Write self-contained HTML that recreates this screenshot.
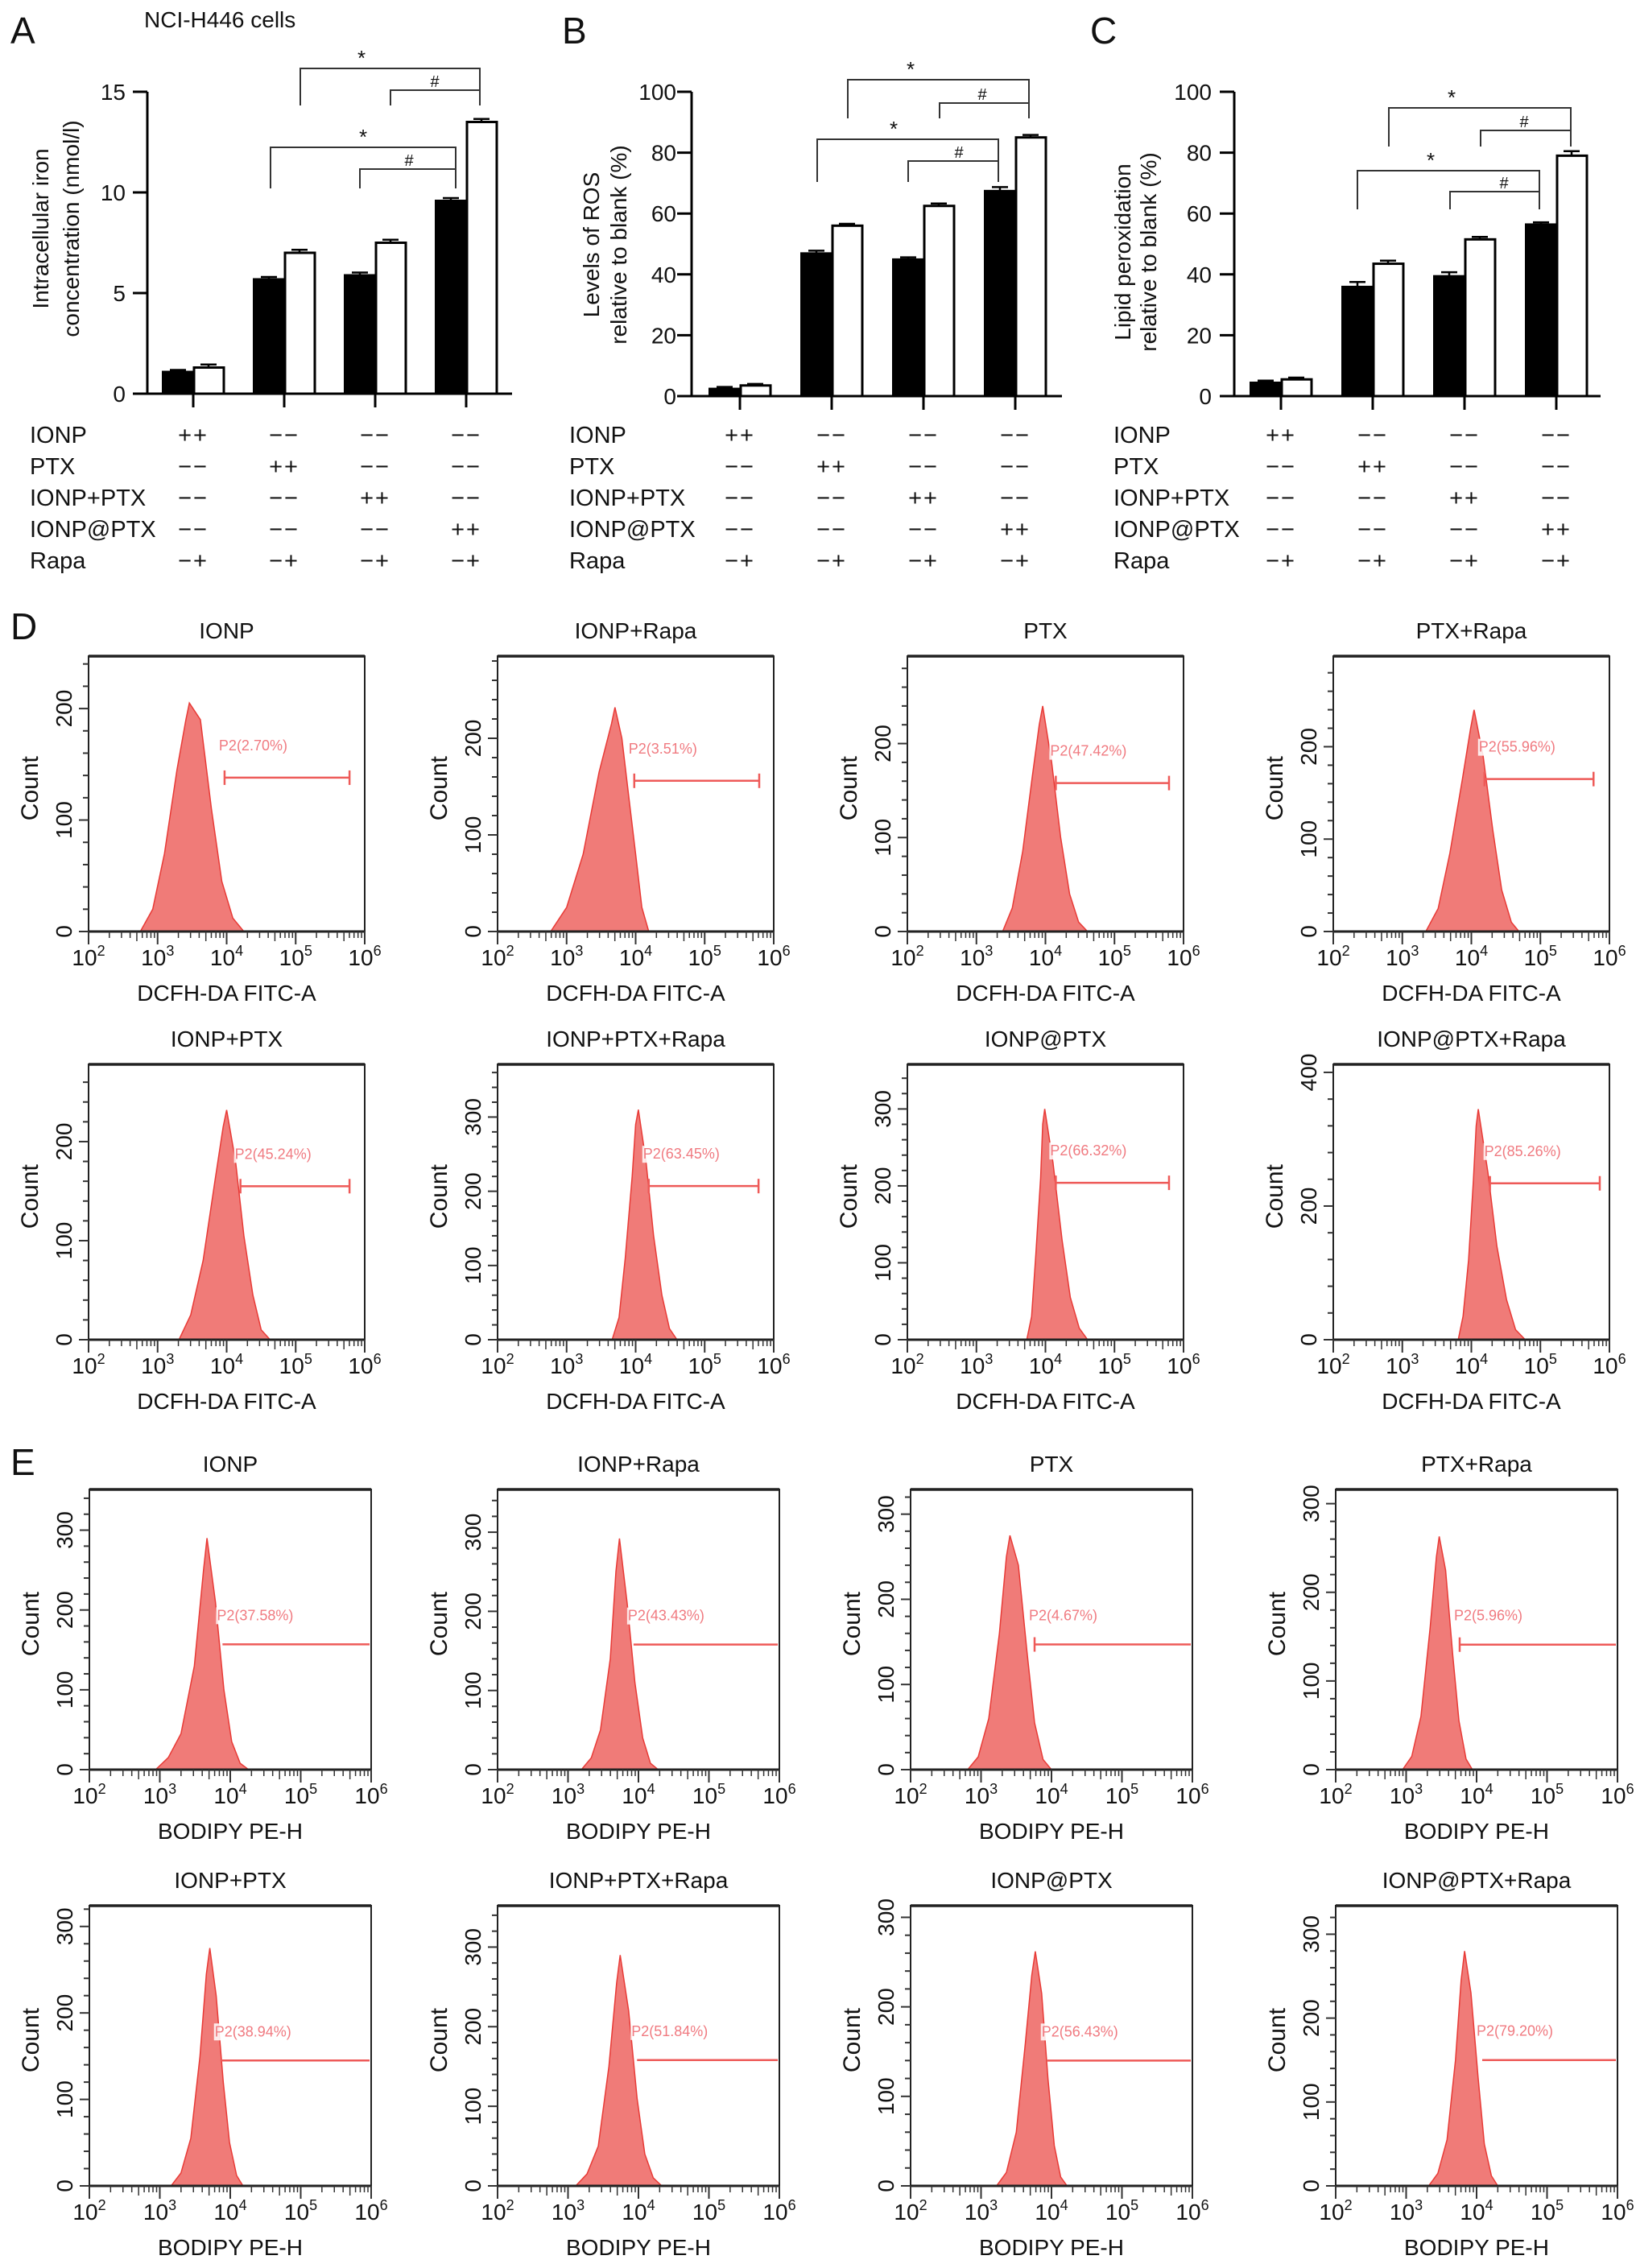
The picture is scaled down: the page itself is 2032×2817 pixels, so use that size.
<!DOCTYPE html>
<html><head><meta charset="utf-8"><style>
html,body{margin:0;padding:0;background:#fff;}
svg{display:block;font-family:"Liberation Sans",Arial,sans-serif;}
</style></head><body>
<svg id="fig" xmlns="http://www.w3.org/2000/svg" width="2032" height="2817" viewBox="0 0 2032 2817">
<rect width="2032" height="2817" fill="#fff"/>
<g id="bars"></g>
<g id="hists"></g>
</svg>
<script>
// ---------- Bar chart data ----------
const groupNames = ["IONP","PTX","IONP+PTX","IONP@PTX"];
const rowLabels = ["IONP","PTX","IONP+PTX","IONP@PTX","Rapa"];
const ironBlack = [1.1,5.7,5.9,9.6];
const ironWhite = [1.3,7.0,7.5,13.5];
const ironErrB = [0.08,0.1,0.12,0.12];
const ironErrW = [0.15,0.15,0.15,0.15];
const rosBlack = [2.5,47,45,67.5];
const rosWhite = [3.5,56,62.5,85];
const rosErrB = [0.5,0.8,0.6,1.2];
const rosErrW = [0.5,0.6,0.8,0.8];
const lipBlack = [4.5,36,39.5,56.5];
const lipWhite = [5.5,43.5,51.5,79];
const lipErrB = [0.6,1.5,1.2,0.6];
const lipErrW = [0.6,1.0,0.8,1.5];
const ironTicks = [0,5,10,15];
const pctTicks = [0,20,40,60,80,100];

// ---------- Histogram data ----------
const dTitles = ["IONP","IONP+Rapa","PTX","PTX+Rapa","IONP+PTX","IONP+PTX+Rapa","IONP@PTX","IONP@PTX+Rapa"];
const dGateLabels = ["P2(2.70%)","P2(3.51%)","P2(47.42%)","P2(55.96%)","P2(45.24%)","P2(63.45%)","P2(66.32%)","P2(85.26%)"];
const dYMax = [247,285,293,298,278,371,358,412];
const dTickStep = [100,100,100,100,100,100,100,200];
const dGateY = [138,156,158,165,155,207,204,234];
const dGateX0 = [3.97,3.98,4.15,4.19,4.2,4.19,4.15,4.27];
const dGateX1 = [5.78,5.79,5.79,5.77,5.78,5.78,5.79,5.86];
const dXs = [
 [2.75,2.93,3.1,3.28,3.41,3.46,3.62,3.78,3.93,4.09,4.25],
 [2.77,3.0,3.24,3.47,3.65,3.7,3.8,3.9,4.0,4.09,4.19],
 [3.38,3.52,3.67,3.81,3.91,3.96,4.09,4.22,4.35,4.48,4.61],
 [3.34,3.52,3.69,3.87,3.99,4.04,4.17,4.31,4.44,4.58,4.69],
 [3.31,3.48,3.66,3.83,3.95,4.0,4.13,4.25,4.38,4.5,4.63],
 [3.66,3.76,3.85,3.95,4.0,4.04,4.15,4.26,4.38,4.49,4.6],
 [3.73,3.8,3.86,3.93,3.96,3.99,4.11,4.24,4.36,4.49,4.61],
 [3.81,3.88,3.96,4.03,4.07,4.1,4.24,4.37,4.51,4.64,4.78]];
const dYs = [
 [0,20,70,145,190,205,190,110,45,12,0],
 [0,25,80,165,215,232,200,140,80,25,0],
 [0,25,85,165,220,240,180,100,40,10,0],
 [0,25,85,165,220,240,190,110,45,10,0],
 [0,25,80,160,215,232,180,105,45,10,0],
 [0,30,110,220,290,310,240,140,60,15,0],
 [0,30,110,210,280,300,230,130,55,15,0],
 [0,35,120,240,320,345,250,140,60,15,0]];
const eTitles = dTitles;
const eGateLabels = ["P2(37.58%)","P2(43.43%)","P2(4.67%)","P2(5.96%)","P2(38.94%)","P2(51.84%)","P2(56.43%)","P2(79.20%)"];
const eYMax = [351,354,329,316,324,352,313,334];
const eTickStep = [100,100,100,100,100,100,100,100];
const eGateY = [157,158,147,141,145,158,140,150];
const eGateX0 = [3.89,3.93,3.76,3.76,3.86,3.98,3.94,4.08];
const eGateX1 = [6,6,6,6,6,6,6,6];
const eXs = [
 [2.94,3.12,3.3,3.49,3.62,3.67,3.79,3.91,4.02,4.14,4.26],
 [3.19,3.33,3.46,3.6,3.68,3.73,3.84,3.95,4.06,4.17,4.28],
 [2.81,2.96,3.11,3.26,3.36,3.41,3.53,3.65,3.76,3.88,4.0],
 [2.95,3.08,3.21,3.34,3.43,3.47,3.56,3.66,3.75,3.85,3.94],
 [3.16,3.3,3.44,3.57,3.66,3.71,3.8,3.9,3.99,4.09,4.18],
 [3.11,3.27,3.43,3.58,3.69,3.74,3.86,3.98,4.09,4.21,4.33],
 [3.22,3.36,3.5,3.63,3.72,3.77,3.86,3.95,4.04,4.13,4.22],
 [3.32,3.45,3.58,3.7,3.78,3.83,3.92,4.02,4.11,4.21,4.3]];
const eYs = [
 [0,15,45,130,250,290,210,100,35,8,0],
 [0,15,50,140,250,292,210,110,40,8,0],
 [0,15,60,160,250,275,240,140,55,12,0],
 [0,15,60,160,240,263,225,130,55,12,0],
 [0,15,55,150,245,275,220,120,50,12,0],
 [0,15,50,150,255,290,220,110,40,10,0],
 [0,15,60,160,235,262,215,120,45,10,0],
 [0,15,55,150,245,280,230,130,50,12,0]];

const NS="http://www.w3.org/2000/svg";
function mk(tag, attrs, parent, txt){
  const e=document.createElementNS(NS,tag);
  for(const k in attrs) e.setAttribute(k,attrs[k]);
  if(txt!==undefined) e.textContent=txt;
  parent.appendChild(e); return e;
}
const barsG=document.getElementById('bars');
const histG=document.getElementById('hists');

function txt(parent,x,y,s,size,anchor,name,extra){
  const a={x:x,y:y,'font-size':size,'text-anchor':anchor||'start',fill:'#111'};
  if(extra) for(const k in extra) a[k]=extra[k];
  const t=mk('text',a,parent,s);
  
  
  return t;
}

// ---------- Bar panels ----------
function barPanel(cfg){
  const g=mk('g',{},barsG);
  
  
  const ys=v=>cfg.y0-(v/cfg.max)*(cfg.y0-cfg.yTop);
  const cx=i=>cfg.c0+i*cfg.sp;
  txt(g,cfg.letterX,54,cfg.letter,46,'start','panel-letter');
  const ax=mk('line',{x1:cfg.ax,y1:cfg.yTop,x2:cfg.ax,y2:cfg.y0,stroke:'#000','stroke-width':3},g);
  
  const xa=mk('line',{x1:cfg.ax-18,y1:cfg.y0,x2:cfg.xEnd,y2:cfg.y0,stroke:'#000','stroke-width':3},g);
  
  cfg.ticks.forEach(t=>{
    mk('line',{x1:cfg.ax-18,y1:ys(t),x2:cfg.ax,y2:ys(t),stroke:'#000','stroke-width':3},g);
    txt(g,cfg.tickRight,ys(t)+10,String(t),28,'end','y-tick-label');
  });
  const tg=mk('g',{transform:`translate(${cfg.titleX},${cfg.titleY}) rotate(-90)`},g);
  txt(tg,0,0,cfg.title1,28,'middle','y-axis-title');
  txt(tg,0,cfg.titleGap,cfg.title2,28,'middle','y-axis-title');
  for(let i=0;i<4;i++){
    const c=cx(i);
    mk('line',{x1:c,y1:cfg.y0,x2:c,y2:cfg.y0+17,stroke:'#000','stroke-width':3},g);
    const vb=cfg.black[i], vw=cfg.white[i];
    const b=mk('rect',{x:c-38,y:ys(vb),width:38,height:cfg.y0-ys(vb),fill:'#000',stroke:'#000','stroke-width':2},g);
    
    
    const w=mk('rect',{x:c+1,y:ys(vw),width:37,height:cfg.y0-ys(vw),fill:'#fff',stroke:'#000','stroke-width':3},g);
    
    
    [[c-19,vb,cfg.errB[i]],[c+19,vw,cfg.errW[i]]].forEach(e=>{
      mk('line',{x1:e[0],y1:ys(e[1]+e[2]),x2:e[0],y2:ys(e[1]),stroke:'#000','stroke-width':2.5},g);
      mk('line',{x1:e[0]-10,y1:ys(e[1]+e[2]),x2:e[0]+10,y2:ys(e[1]+e[2]),stroke:'#000','stroke-width':2.5},g);
    });
  }
  cfg.brackets.forEach(bk=>{
    const p=mk('path',{d:`M${bk[0]},${bk[3]} V${bk[2]} H${bk[1]} V${bk[3]}`,fill:'none',stroke:'#333','stroke-width':2},g);
    
    txt(g,bk[4],bk[2]-4,bk[5],bk[5]==='*'?26:20,'middle','significance-mark');
  });
  const signs=[["++","−−","−−","−−"],["−−","++","−−","−−"],["−−","−−","++","−−"],["−−","−−","−−","++"],["−+","−+","−+","−+"]];
  const rowY=[550,589,628,667,706];
  for(let r=0;r<5;r++){
    txt(g,cfg.rowX,rowY[r],rowLabels[r],29,'start','condition-label');
    for(let i=0;i<4;i++) txt(g,cx(i),rowY[r],signs[r][i],29,'middle','condition-sign',{'letter-spacing':2});
  }
}
barPanel({name:'panel-a-iron',letter:'A',letterX:13,ax:183,xEnd:636,y0:489,yTop:114,max:15,ticks:ironTicks,c0:240,sp:113,
  black:ironBlack,white:ironWhite,errB:ironErrB,errW:ironErrW,tickRight:156,titleX:60,titleY:284,titleGap:38,
  title1:'Intracellular iron',title2:'concentration (nmol/l)',rowX:37,
  brackets:[[373,596,85,131,449,'*'],[485,596,112,131,540,'#'],[336,566,183,234,451,'*'],[447,566,210,234,508,'#']]});
barPanel({name:'panel-b-ros',letter:'B',letterX:698,ax:859,xEnd:1319,y0:492,yTop:114,max:100,ticks:pctTicks,c0:919,sp:114,
  black:rosBlack,white:rosWhite,errB:rosErrB,errW:rosErrW,tickRight:840,titleX:744,titleY:304,titleGap:34,
  title1:'Levels of ROS',title2:'relative to blank (%)',rowX:707,
  brackets:[[1053,1278,99,147,1131,'*'],[1167,1278,128,147,1220,'#'],[1015,1240,173,226,1110,'*'],[1128,1240,200,226,1191,'#']]});
barPanel({name:'panel-c-lipid',letter:'C',letterX:1354,ax:1533,xEnd:1988,y0:492,yTop:114,max:100,ticks:pctTicks,c0:1591,sp:114,
  black:lipBlack,white:lipWhite,errB:lipErrB,errW:lipErrW,tickRight:1505,titleX:1404,titleY:313,titleGap:32,
  title1:'Lipid peroxidation',title2:'relative to blank (%)',rowX:1383,
  brackets:[[1725,1951,134,182,1803,'*'],[1839,1951,162,182,1893,'#'],[1686,1912,212,260,1777,'*'],[1801,1912,238,260,1868,'#']]});
txt(barsG,179,34,'NCI-H446 cells',28,'start','cell-line-title');
txt(barsG,13,794,'D',46,'start','panel-letter');
txt(barsG,13,1832,'E',46,'start','panel-letter');

// ---------- Histograms ----------
function hist(opt){
  const g=mk('g',{},histG);
  
  
  const L=opt.x,T=opt.y,W=opt.w,H=opt.h,B=T+H;
  const xs=v=>L+(v-2)/4*W;
  const ys=v=>B-v/opt.ymax*H;
  let d=`M${xs(opt.xs[0])},${B}`;
  for(let i=0;i<opt.xs.length;i++) d+=` L${xs(opt.xs[i]).toFixed(1)},${ys(opt.ys[i]).toFixed(1)}`;
  d+=` L${xs(opt.xs[opt.xs.length-1])},${B} Z`;
  const p=mk('path',{d:d,fill:'#f07b78',stroke:'#e83a36','stroke-width':1.5},g);
  
  
  const f=mk('rect',{x:L,y:T,width:W,height:H,fill:'none',stroke:'#222','stroke-width':2},g);
  
  mk('line',{x1:L,y1:T,x2:L+W,y2:T,stroke:'#222','stroke-width':3.5},g);
  mk('line',{x1:L,y1:B,x2:L+W,y2:B,stroke:'#222','stroke-width':3},g);
  const minor=opt.step/5;
  for(let v=0;v<=opt.ymax;v+=minor){
    const major=Math.abs(v/opt.step-Math.round(v/opt.step))<1e-6;
    mk('line',{x1:L-(major?12:7),y1:ys(v),x2:L,y2:ys(v),stroke:'#333','stroke-width':2},g);
    if(major){
      const tg=mk('g',{transform:`translate(${L-21},${ys(v)}) rotate(-90)`},g);
      txt(tg,0,0,String(Math.round(v)),28,'middle','y-tick-label');
    }
  }
  const cg=mk('g',{transform:`translate(${L-63},${T+H*0.48}) rotate(-90)`},g);
  txt(cg,0,0,'Count',30,'middle','y-axis-title');
  for(let dec=2;dec<=6;dec++){
    mk('line',{x1:xs(dec),y1:B,x2:xs(dec),y2:B+16,stroke:'#333','stroke-width':2},g);
    const t=txt(g,xs(dec),B+42,'10',28,'middle','x-tick-label');
    mk('tspan',{dy:-12,'font-size':18},t,String(dec));
    if(dec<6) for(let m=2;m<=9;m++){
      const lx=xs(dec+Math.log10(m));
      mk('line',{x1:lx,y1:B,x2:lx,y2:B+(m===5?12:8),stroke:'#333','stroke-width':1.5},g);
    }
  }
  txt(g,L+W/2,B+86,opt.xlabel,28,'middle','x-axis-title');
  txt(g,L+W/2,T-22,opt.title,28,'middle','histogram-title');
  const gy=ys(opt.gy), gx0=xs(opt.gx0), gx1=Math.min(xs(opt.gx1),L+W-2);
  const gl=mk('line',{x1:gx0,y1:gy,x2:gx1,y2:gy,stroke:'#ee5a58','stroke-width':2.5},g);
  
  
  if(opt.caps){
    mk('line',{x1:gx0,y1:gy-9,x2:gx0,y2:gy+9,stroke:'#ee5a58','stroke-width':2.5},g);
    mk('line',{x1:gx1,y1:gy-9,x2:gx1,y2:gy+9,stroke:'#ee5a58','stroke-width':2.5},g);
  } else if(opt.leftCap){
    mk('line',{x1:gx0,y1:gy-9,x2:gx0,y2:gy+9,stroke:'#ee5a58','stroke-width':2.5},g);
  }
  const lx=gx0-8, lyy=gy-(opt.caps?34:30);
  mk('rect',{x:lx,y:lyy-16,width:opt.label.length*10,height:21,fill:'#fff','fill-opacity':0.85},g);
  txt(g,lx+1,lyy,opt.label,18,'start','gate-label',{fill:'#f07a80'});
}
const dCols=[110,618,1127,1656], dRows=[815,1322];
const eCols=[111,618,1131,1659], eRows=[1850,2367];
for(let i=0;i<8;i++){
  const r=Math.floor(i/4), c=i%4;
  hist({id:'d-'+(i+1),x:dCols[c],y:dRows[r],w:343,h:342,ymax:dYMax[i],step:dTickStep[i],xs:dXs[i],ys:dYs[i],
    gy:dGateY[i],gx0:dGateX0[i],gx1:dGateX1[i],caps:true,label:dGateLabels[i],title:dTitles[i],xlabel:'DCFH-DA FITC-A'});
}
for(let i=0;i<8;i++){
  const r=Math.floor(i/4), c=i%4;
  hist({id:'e-'+(i+1),x:eCols[c],y:eRows[r],w:350,h:348,ymax:eYMax[i],step:eTickStep[i],xs:eXs[i],ys:eYs[i],
    gy:eGateY[i],gx0:eGateX0[i],gx1:eGateX1[i],caps:false,leftCap:(i===2||i===3),label:eGateLabels[i],title:eTitles[i],xlabel:'BODIPY PE-H'});
}
</script>
</body></html>
